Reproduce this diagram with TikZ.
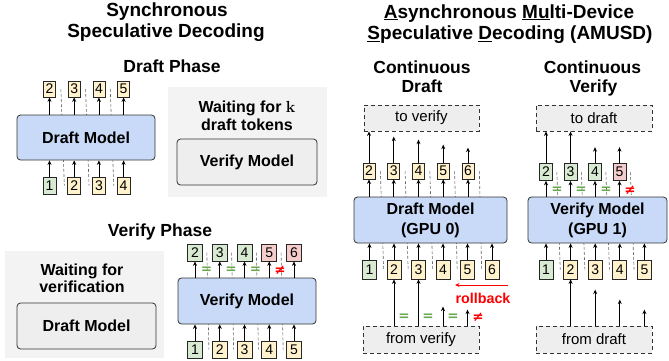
\documentclass[tikz,border=0pt]{standalone}
\usepackage{fontspec}
\setmainfont{Liberation Sans}
\newfontfamily\symf{DejaVu Sans}
\newfontfamily\lmrf{Latin Modern Roman}
\usetikzlibrary{arrows.meta,calc}
\definecolor{blueF}{HTML}{C9DAF8}
\definecolor{grayF}{HTML}{EEEEEE}
\definecolor{bgF}{HTML}{F3F3F3}
\definecolor{greenF}{HTML}{D9EAD3}
\definecolor{yellowF}{HTML}{FFF2CC}
\definecolor{redF}{HTML}{F4CCCC}
\definecolor{eqG}{HTML}{6AA84F}
\definecolor{neqR}{HTML}{FF0000}
\definecolor{lineC}{HTML}{333333}
\definecolor{dashC}{HTML}{666666}
\begin{document}
\begin{tikzpicture}[x=1pt,y=-1pt,
 title/.style={font=\fontsize{19}{21}\selectfont\bfseries, anchor=base, inner sep=0},
 phase/.style={font=\fontsize{17.5}{20}\selectfont\bfseries, anchor=base, inner sep=0},
 wait/.style={font=\fontsize{16}{18}\selectfont\bfseries, anchor=base, inner sep=0},
 model/.style={draw=lineC, line width=0.8pt, rounded corners=3.5pt, fill=blueF, align=center, font=\fontsize{16}{20}\selectfont\bfseries, inner sep=0},
 idle/.style={model, fill=grayF},
 bgbox/.style={fill=bgF, inner sep=0},
 dbox/.style={draw=lineC, dash pattern=on 4pt off 3pt, line width=0.8pt, fill=grayF, font=\fontsize{15}{15}\selectfont, inner sep=0},
 tok/.style={draw=black!85, line width=0.7pt, inner sep=0, font=\fontsize{14}{14}\selectfont},
 tokS/.style={tok, minimum width=12pt, minimum height=16pt},
 tokI/.style={tok, minimum width=13pt, minimum height=17pt},
 tokM/.style={tok, minimum width=14pt, minimum height=19pt},
 tokL/.style={tok, minimum width=15pt, minimum height=17pt},
 tg/.style={fill=greenF}, ty/.style={fill=yellowF}, tr/.style={fill=redF},
 arr/.style={-{Stealth[length=4.5pt,width=4pt]}, line width=0.8pt, draw=black},
 fb/.style={draw=dashC, dash pattern=on 3pt off 2pt, line width=0.6pt},
 eqs/.style={font=\fontsize{13.5}{13.5}\selectfont\symf\bfseries, text=eqG, inner sep=0},
 neqs/.style={eqs, text=neqR},
]
\useasboundingbox (0,0) rectangle (669,360);

% ---------- titles ----------
\node[title] (t1a) at (167,16.7) {Synchronous};
\node[title] (t1b) at (166,37.3) {Speculative Decoding};
\node[title] (t2a) at (509,18) {\underline{A}synchronous \underline{Mu}lti-Device};
\node[title] (t2b) at (510,39.5) {\underline{S}peculative \underline{D}ecoding (AMUSD)};
\node[phase] (ph1) at (172,72) {Draft Phase};
\node[phase] (ph2) at (160,236) {Verify Phase};
\node[phase] (cda) at (422,73) {Continuous};
\node[phase] (cdb) at (422,92.5) {Draft};
\node[phase] (cva) at (592.5,73) {Continuous};
\node[phase] (cvb) at (593.5,92.5) {Verify};

% ---------- Draft phase ----------
\node[bgbox, minimum width=159pt, minimum height=110pt] (bg1) at (247.5,142) {};
\node[wait] (w1a) at (247,112.3) {Waiting for {\lmrf\bfseries k}};
\node[wait] (w1b) at (247,130) {draft tokens};
\node[idle, minimum width=140pt, minimum height=46pt] (dpv) at (247,162) {Verify Model};

\foreach \i [count=\k from 0] in {2,3,4,5}
  \node[tokS,ty] (dpo\i) at ({49.5+24.7*\k},89) {\i};
\node[tokI,tg] (dpi1) at (49.5,185.5) {1};
\foreach \i [count=\k from 1] in {2,3,4}
  \node[tokI,ty] (dpi\i) at ({49.5+24.7*\k},185.5) {\i};
\foreach \i in {2,3,4}
  \draw[fb] ($(dpo\i.east)+(5,0)$) -- ($(dpi\i.west)+(-3,0)$);
\node[model, minimum width=138pt, minimum height=45pt] (dpm) at (86,137.5) {Draft Model};
\foreach \i in {2,3,4,5}
  \draw[arr] (dpm.north -| dpo\i.south) -- (dpo\i.south);
\foreach \i in {1,2,3,4}
  \draw[arr] (dpi\i.north) -- (dpi\i.north |- dpm.south);

% ---------- Verify phase ----------
\node[bgbox, minimum width=159pt, minimum height=107pt] (bg2) at (84.5,304.5) {};
\node[wait] (w2a) at (82,275) {Waiting for};
\node[wait] (w2b) at (82,292) {verification};
\node[idle, minimum width=139pt, minimum height=46pt] (vpd) at (86.5,326) {Draft Model};

\foreach \i [count=\k from 0] in {2,3,4}
  \node[tokL,tg] (vpo\i) at ({195+24.75*\k},252.5) {\i};
\foreach \i [count=\k from 3] in {5,6}
  \node[tokL,tr] (vpo\i) at ({195+24.75*\k},252.5) {\i};
\node[tokL,tg] (vpi1) at (195,349.5) {1};
\foreach \i [count=\k from 1] in {2,3,4,5}
  \node[tokL,ty] (vpi\i) at ({195+24.75*\k},349.5) {\i};
\foreach \i in {2,3,4,5}
  \draw[fb] ($(vpo\i.east)+(4,0)$) -- ($(vpi\i.west)+(-3,0)$);
\node[model, minimum width=138pt, minimum height=46pt] (vpm) at (247,301) {Verify Model};
\foreach \i in {2,3,4,5,6}
  \draw[arr] (vpm.north -| vpo\i.south) -- (vpo\i.south);
\foreach \i in {1,2,3,4,5}
  \draw[arr] (vpi\i.north) -- (vpi\i.north |- vpm.south);
\node[eqs] (ve1) at (206.5,270) {=};
\node[eqs] (ve2) at (231,270) {=};
\node[eqs] (ve3) at (255.5,270) {=};
\node[neqs] (ve4) at (280,270) {≠};

% ---------- Continuous draft ----------
\node[dbox, minimum width=115pt, minimum height=26pt] (tv) at (421.5,118) {to verify};
\node[dbox, minimum width=116pt, minimum height=27pt] (fv) at (421,339.5) {from verify};
\foreach \i [count=\k from 0] in {2,3,4,5,6}
  \node[tokS,ty] (cdo\i) at ({369+24.75*\k},171) {\i};
\node[tokM,tg] (cdi1) at (369.5,269.5) {1};
\foreach \i [count=\k from 1] in {2,3,4,5,6}
  \node[tokM,ty] (cdi\i) at ({369.5+24.5*\k},269.5) {\i};
\foreach \i in {2,3,4,5,6}
  \draw[fb] ($(cdo\i.east)+(5,0)$) -- ($(cdi\i.west)+(-3,0)$);
\node[model, minimum width=153pt, minimum height=46pt] (cdm) at (430.5,220) {Draft Model\\(GPU 0)};
\foreach \i in {2,3,4,5,6}
  \draw[arr] (cdm.north -| cdo\i.south) -- (cdo\i.south);
\foreach \i in {1,2,3,4,5,6}
  \draw[arr] (cdi\i.north) -- (cdi\i.north |- cdm.south);
% streaming to verify
\draw[arr] (cdo2.north) -- (cdo2.north |- tv.south);
\coordinate (ct3) at ($(cdo3.north)+(0,-26)$);
\coordinate (ct4) at ($(cdo4.north)+(0,-23)$);
\coordinate (ct5) at ($(cdo5.north)+(0,-18)$);
\coordinate (ct6) at ($(cdo6.north)+(0,-15)$);
\foreach \i in {3,4,5,6}
  \draw[arr] (cdo\i.north) -- (ct\i);
% from verify
\draw[arr] (cdi2.south |- fv.north) -- (cdi2.south);
\draw[arr] (cdi3.south |- fv.north) -- (cdi3.south);
\coordinate (cb4s) at (cdi4.south |- fv.north);
\coordinate (cb5s) at (cdi5.south |- fv.north);
\coordinate (cb4e) at ($(cb4s)+(0,-19)$);
\coordinate (cb5e) at ($(cb5s)+(0,-16)$);
\draw[arr] (cb4s) -- (cb4e);
\draw[arr] (cb5s) -- (cb5e);
\node[eqs] (ce1) at (404,317) {=};
\node[eqs] (ce2) at (428,317) {=};
\node[eqs] (ce3) at (453,317) {=};
\node[neqs] (ce4) at (478,317) {≠};
\coordinate (rbs) at (508,285);
\coordinate (rbe) at (455,285);
\draw[arr, draw=neqR] (rbs) -- (rbe);
\node[font=\fontsize{14.3}{15}\selectfont\bfseries, text=neqR, anchor=base, inner sep=0] (rb) at (483,303) {rollback};

% ---------- Continuous verify ----------
\node[dbox, minimum width=116pt, minimum height=26pt] (td) at (594,118) {to draft};
\node[dbox, minimum width=116pt, minimum height=27pt] (fd) at (594,339.5) {from draft};
\foreach \i [count=\k from 0] in {2,3,4}
  \node[tokI,tg] (cvo\i) at ({546+24.5*\k},172) {\i};
\node[tokI,tr] (cvo5) at ({546+24.5*3},172) {5};
\node[tokM,tg] (cvi1) at (546,269.5) {1};
\foreach \i [count=\k from 1] in {2,3,4,5}
  \node[tokM,ty] (cvi\i) at ({546+24.6*\k},269.5) {\i};
\foreach \i in {2,3,4,5}
  \draw[fb] ($(cvo\i.east)+(4,0)$) -- ($(cvi\i.west)+(-3,0)$);
\node[model, minimum width=139pt, minimum height=46pt] (cvm) at (597.5,220) {Verify Model\\(GPU 1)};
\foreach \i in {2,3,4,5}
  \draw[arr] (cvm.north -| cvo\i.south) -- (cvo\i.south);
\foreach \i in {1,2,3,4,5}
  \draw[arr] (cvi\i.north) -- (cvi\i.north |- cvm.south);
\node[eqs] (cve1) at (557,190) {=};
\node[eqs] (cve2) at (581,190) {=};
\node[eqs] (cve3) at (606,190) {=};
\node[neqs] (cve4) at (630,190) {≠};
% to draft
\draw[arr] (cvo2.north) -- (cvo2.north |- td.south);
\draw[arr] (cvo3.north) -- (cvo3.north |- td.south);
\coordinate (vt4) at ($(cvo4.north)+(0,-16)$);
\coordinate (vt5) at ($(cvo5.north)+(0,-16)$);
\draw[arr] (cvo4.north) -- (vt4);
\draw[arr] (cvo5.north) -- (vt5);
% from draft
\draw[arr] (cvi2.south |- fd.north) -- (cvi2.south);
\coordinate (vb3s) at (cvi3.south |- fd.north);
\coordinate (vb4s) at (cvi4.south |- fd.north);
\coordinate (vb5s) at (cvi5.south |- fd.north);
\coordinate (vb3e) at ($(vb3s)+(0,-36)$);
\coordinate (vb4e) at ($(vb4s)+(0,-26)$);
\coordinate (vb5e) at ($(vb5s)+(0,-16)$);
\draw[arr] (vb3s) -- (vb3e);
\draw[arr] (vb4s) -- (vb4e);
\draw[arr] (vb5s) -- (vb5e);
\end{tikzpicture}
\end{document}
